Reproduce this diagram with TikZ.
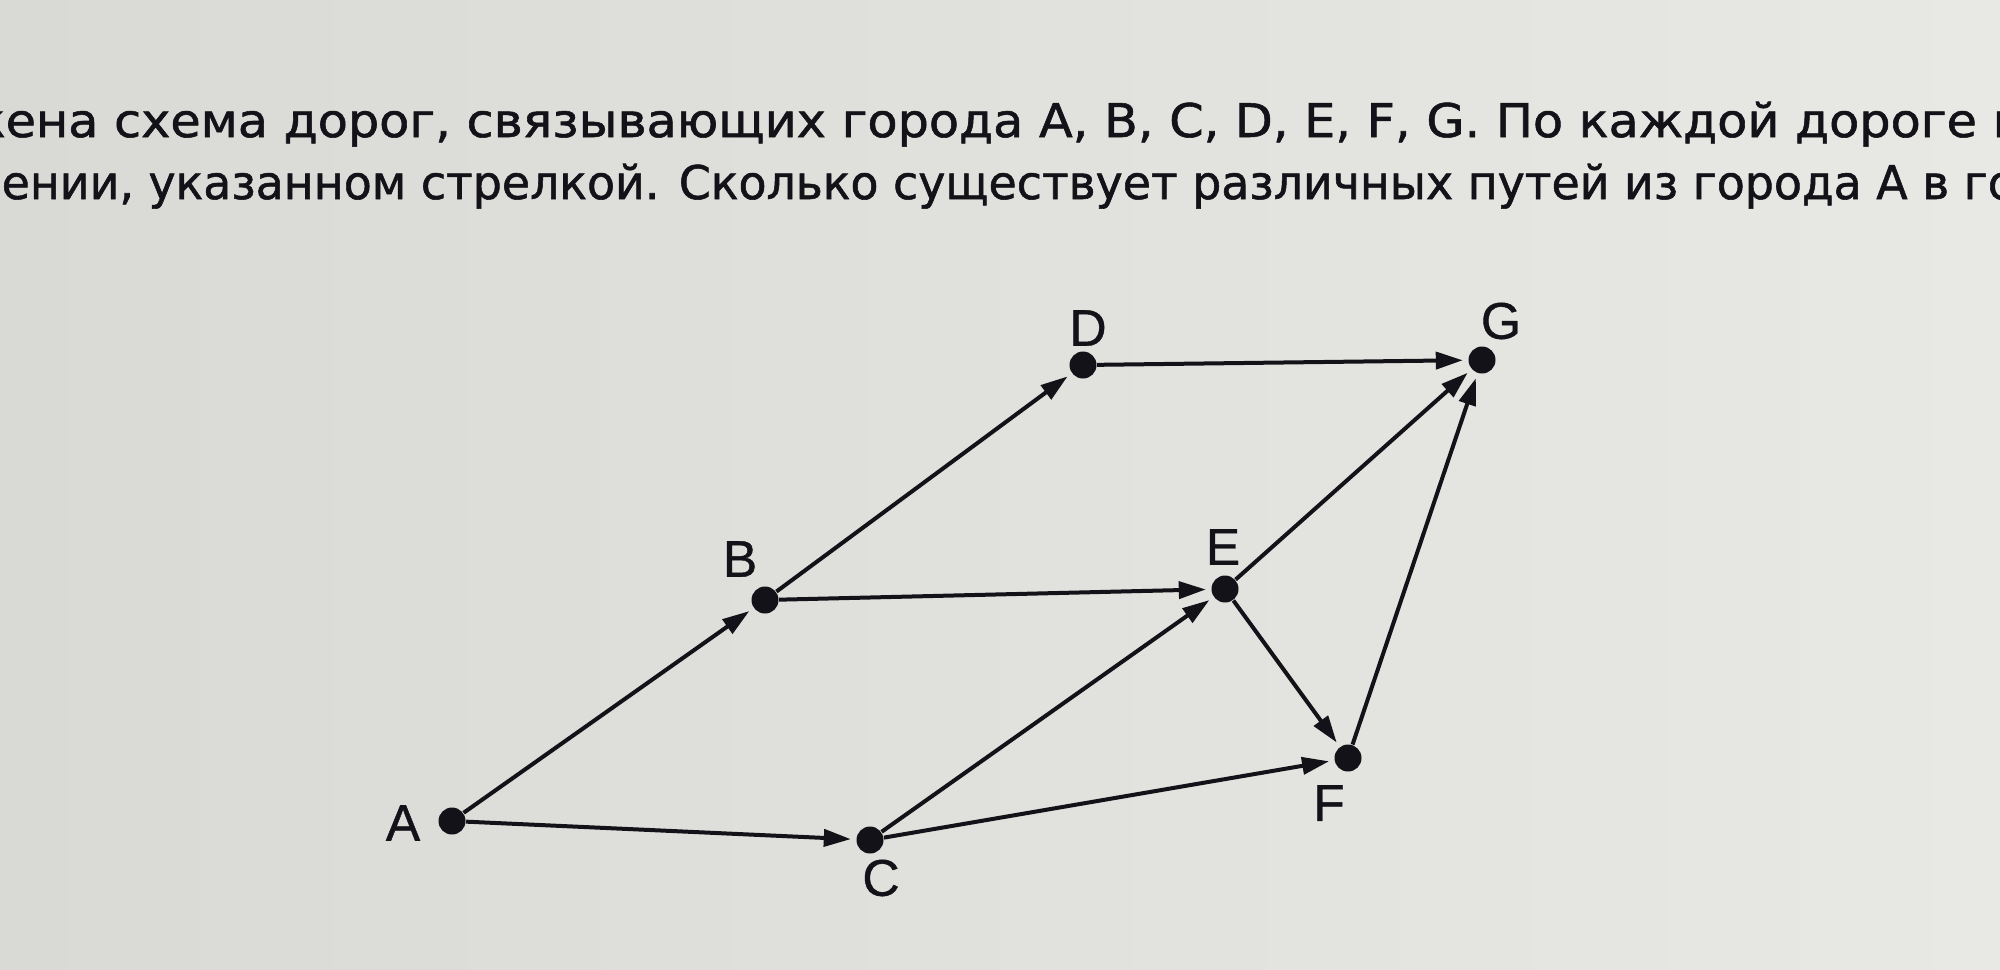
\documentclass[tikz,border=0pt]{standalone}
\usepackage{fontspec}
\usepackage{graphicx}
\newfontfamily\txtfont[FakeBold=1.2]{DejaVu Sans}
\newfontfamily\lblfont[FakeBold=0.8]{Liberation Sans}
\usetikzlibrary{arrows.meta}
\definecolor{bgl}{HTML}{D9D9D5}
\definecolor{bgr}{HTML}{E8E8E5}
\definecolor{ink}{HTML}{121218}
\newlength\lineAw
\newlength\lineBw
\newcommand{\txtsize}{\fontsize{13.2}{15}\selectfont}
\begin{document}
\settowidth{\lineAw}{\txtfont\txtsize ена схема дорог, связывающих города A, B, C, D, E, F, G. По каждой дороге\ }%
\settowidth{\lineBw}{\txtfont\txtsize ении, указанном стрелкой. Сколько существует различных путей из города A в\ }%
\pgfmathsetmacro{\sA}{565.3/\lineAw}%
\pgfmathsetmacro{\sB}{558.2/\lineBw}%
\begin{tikzpicture}[x=1cm,y=-1cm,
  dot/.style={circle, fill=ink, inner sep=0pt, minimum size=0.27cm},
  lbl/.style={font=\lblfont\fontsize{14.7}{17}\selectfont, text=ink, inner sep=0pt},
  txt/.style={anchor=base west, inner sep=0pt, text=ink},
  road/.style={draw=ink, line width=0.04cm, -{Triangle[length=0.27cm,width=0.17cm]}, shorten >=0.05cm}]
\useasboundingbox (0,0) rectangle (20,9.69);
\clip (0,0) rectangle (20,9.69);
\shade[left color=bgl, right color=bgr] (0,0) rectangle (20,9.69);
% text
\node[txt] (t1) at (0.05,1.37) {\scalebox{\sA}[1]{\txtfont\txtsize\llap{ж}ена схема дорог, связывающих города A, B, C, D, E, F, G. По каждой дороге м}};
\node[txt] (t2) at (0.01,1.99) {\scalebox{\sB}[1]{\txtfont\txtsize ении, указанном стрелкой. Сколько существует различных путей из города A в го}};
% towns
\node[dot] (A) at (4.52,8.21) {};
\node[dot] (B) at (7.65,6.00) {};
\node[dot] (C) at (8.70,8.40) {};
\node[dot] (D) at (10.83,3.65) {};
\node[dot] (E) at (12.25,5.89) {};
\node[dot] (F) at (13.48,7.58) {};
\node[dot] (G) at (14.82,3.60) {};
% labels
\node[lbl] (lA) at (4.03,8.23) {A};
\node[lbl] (lB) at (7.40,5.59) {B};
\node[lbl] (lC) at (8.81,8.78) {C};
\node[lbl] (lD) at (10.88,3.28) {D};
\node[lbl] (lE) at (12.23,5.47) {E};
\node[lbl] (lF) at (13.29,8.03) {F};
\node[lbl] (lG) at (15.01,3.21) {G};
% roads
\draw[road] (A) -- (B);
\draw[road] (A) -- (C);
\draw[road] (B) -- (D);
\draw[road] (B) -- (E);
\draw[road] (C) -- (E);
\draw[road] (C) -- (F);
\draw[road] (D) -- (G);
\draw[road] (E) -- (G);
\draw[road] (E) -- (F);
\draw[road] (F) -- (G);
\end{tikzpicture}
\end{document}
